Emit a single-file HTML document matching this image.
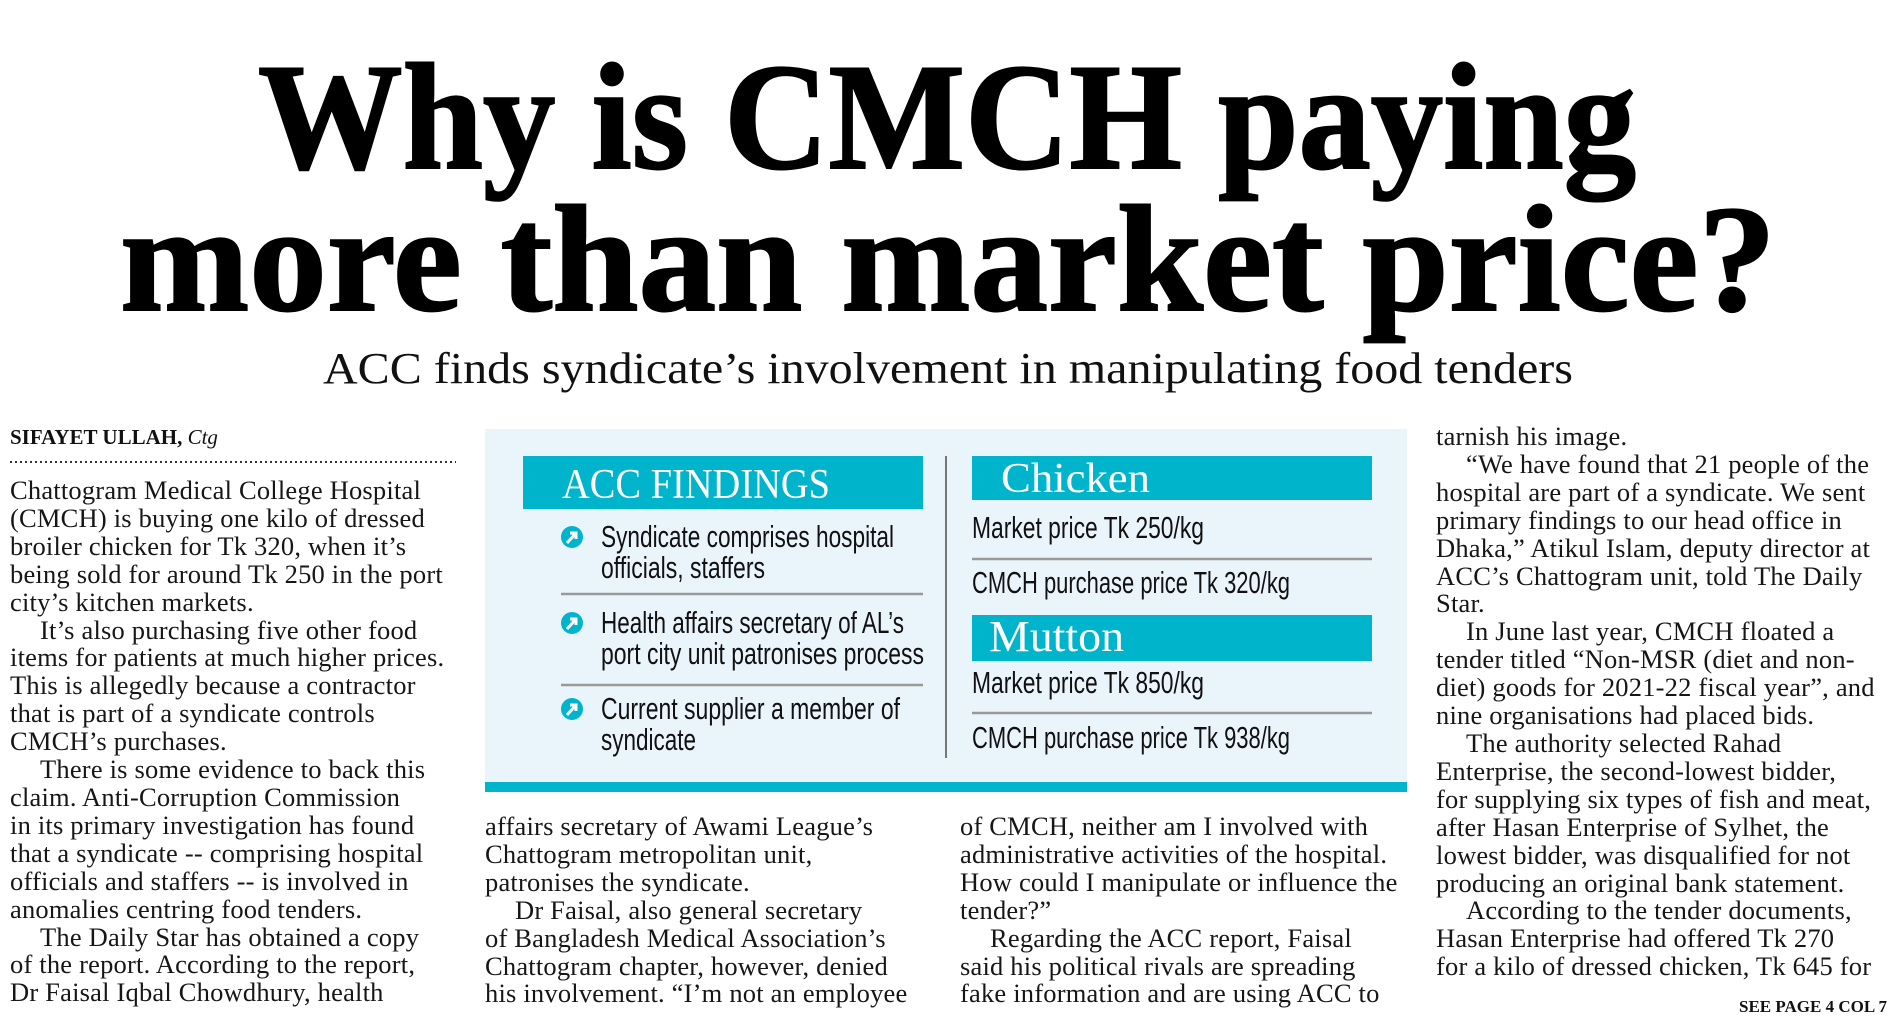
<!DOCTYPE html>
<html><head><meta charset="utf-8"><style>
html,body{margin:0;padding:0;background:#fff;}
body{width:1891px;height:1031px;position:relative;overflow:hidden;font-family:"Liberation Serif",serif;color:#161616;}
.col{position:absolute;font-size:26.5px;letter-spacing:0.2px;line-height:27.9px;white-space:nowrap;}
.ind{padding-left:30px;}
svg{position:absolute;left:0;top:0;}
</style></head><body>
<svg width="1891" height="1031">
 <text x="258" y="168" font-family="Liberation Serif, serif" font-weight="bold" font-size="152" textLength="1378" lengthAdjust="spacingAndGlyphs" fill="#000" stroke="#000" stroke-width="2">Why is CMCH paying</text>
 <text x="120" y="310" font-family="Liberation Serif, serif" font-weight="bold" font-size="152" textLength="1656" lengthAdjust="spacingAndGlyphs" fill="#000" stroke="#000" stroke-width="2">more than market price?</text>
 <text x="323" y="383" font-family="Liberation Serif, serif" font-size="44" textLength="1250" lengthAdjust="spacingAndGlyphs" fill="#111">ACC finds syndicate’s involvement in manipulating food tenders</text>
 <text x="10" y="444" font-family="Liberation Serif, serif" font-size="21" fill="#111"><tspan font-weight="bold">SIFAYET ULLAH,</tspan> <tspan font-style="italic">Ctg</tspan></text>
 <line x1="10" y1="462" x2="456" y2="462" stroke="#333" stroke-width="2" stroke-dasharray="2,3"/>
 <g>
  <rect x="485" y="429" width="922" height="355" fill="#eaf4fb"/>
  <rect x="485" y="782" width="922" height="10" fill="#00b4cc"/>
  <rect x="523" y="456" width="400" height="53" fill="#00b4cc"/>
  <text x="562" y="498" font-family="Liberation Serif, serif" font-size="42" fill="#fff" textLength="268" lengthAdjust="spacingAndGlyphs">ACC FINDINGS</text>
  <line x1="946" y1="456" x2="946" y2="758" stroke="#777" stroke-width="2"/>
  <rect x="972" y="456" width="400" height="44" fill="#00b4cc"/>
  <text x="1001" y="492" font-family="Liberation Serif, serif" font-size="42" fill="#fff" textLength="149" lengthAdjust="spacingAndGlyphs">Chicken</text>
  <rect x="972" y="615" width="400" height="46" fill="#00b4cc"/>
  <text x="989" y="651" font-family="Liberation Serif, serif" font-size="44" fill="#fff" textLength="135" lengthAdjust="spacingAndGlyphs">Mutton</text>
  <g font-family="Liberation Sans, sans-serif" font-size="31" fill="#111">
   <text x="601" y="547" textLength="293" lengthAdjust="spacingAndGlyphs">Syndicate comprises hospital</text>
   <text x="601" y="578" textLength="164" lengthAdjust="spacingAndGlyphs">officials, staffers</text>
   <text x="601" y="633" textLength="303" lengthAdjust="spacingAndGlyphs">Health affairs secretary of AL’s</text>
   <text x="601" y="664" textLength="323" lengthAdjust="spacingAndGlyphs">port city unit patronises process</text>
   <text x="601" y="719" textLength="299" lengthAdjust="spacingAndGlyphs">Current supplier a member of</text>
   <text x="601" y="750" textLength="95" lengthAdjust="spacingAndGlyphs">syndicate</text>
   <text x="972" y="538" textLength="232" lengthAdjust="spacingAndGlyphs">Market price Tk 250/kg</text>
   <text x="972" y="593" textLength="318" lengthAdjust="spacingAndGlyphs">CMCH purchase price Tk 320/kg</text>
   <text x="972" y="693" textLength="232" lengthAdjust="spacingAndGlyphs">Market price Tk 850/kg</text>
   <text x="972" y="748" textLength="318" lengthAdjust="spacingAndGlyphs">CMCH purchase price Tk 938/kg</text>
  </g>
  <g stroke="#999" stroke-width="2.5">
   <line x1="561" y1="594" x2="923" y2="594"/>
   <line x1="561" y1="685" x2="923" y2="685"/>
   <line x1="972" y1="559" x2="1372" y2="559"/>
   <line x1="972" y1="713" x2="1372" y2="713"/>
  </g>
  <g>
   <circle cx="572" cy="537" r="11" fill="#00b4cc"/><path d="M567 543 L576 533 M570 533 L576 533 L576 539" stroke="#fff" stroke-width="3" fill="none"/>
   <circle cx="572" cy="623" r="11" fill="#00b4cc"/><path d="M567 629 L576 619 M570 619 L576 619 L576 625" stroke="#fff" stroke-width="3" fill="none"/>
   <circle cx="572" cy="709" r="11" fill="#00b4cc"/><path d="M567 715 L576 705 M570 705 L576 705 L576 711" stroke="#fff" stroke-width="3" fill="none"/>
  </g>
 </g>
 <text x="1887" y="1012" text-anchor="end" font-family="Liberation Serif, serif" font-weight="bold" font-size="17" fill="#111">SEE PAGE 4 COL 7</text>
</svg>

<div class="col" style="left:10px;top:477px;">Chattogram Medical College Hospital<br>(CMCH) is buying one kilo of dressed<br>broiler chicken for Tk 320, when it’s<br>being sold for around Tk 250 in the port<br>city’s kitchen markets.<br><span class="ind">It’s also purchasing five other food</span><br>items for patients at much higher prices.<br>This is allegedly because a contractor<br>that is part of a syndicate controls<br>CMCH’s purchases.<br><span class="ind">There is some evidence to back this</span><br>claim. Anti-Corruption Commission<br>in its primary investigation has found<br>that a syndicate -- comprising hospital<br>officials and staffers -- is involved in<br>anomalies centring food tenders.<br><span class="ind">The Daily Star has obtained a copy</span><br>of the report. According to the report,<br>Dr Faisal Iqbal Chowdhury, health</div>

<div class="col" style="left:485px;top:813px;">affairs secretary of Awami League’s<br>Chattogram metropolitan unit,<br>patronises the syndicate.<br><span class="ind">Dr Faisal, also general secretary</span><br>of Bangladesh Medical Association’s<br>Chattogram chapter, however, denied<br>his involvement. “I’m not an employee</div>

<div class="col" style="left:960px;top:813px;">of CMCH, neither am I involved with<br>administrative activities of the hospital.<br>How could I manipulate or influence the<br>tender?”<br><span class="ind">Regarding the ACC report, Faisal</span><br>said his political rivals are spreading<br>fake information and are using ACC to</div>

<div class="col" style="left:1436px;top:423px;">tarnish his image.<br><span class="ind">“We have found that 21 people of the</span><br>hospital are part of a syndicate. We sent<br>primary findings to our head office in<br>Dhaka,” Atikul Islam, deputy director at<br>ACC’s Chattogram unit, told The Daily<br>Star.<br><span class="ind">In June last year, CMCH floated a</span><br>tender titled “Non-MSR (diet and non-<br>diet) goods for 2021-22 fiscal year”, and<br>nine organisations had placed bids.<br><span class="ind">The authority selected Rahad</span><br>Enterprise, the second-lowest bidder,<br>for supplying six types of fish and meat,<br>after Hasan Enterprise of Sylhet, the<br>lowest bidder, was disqualified for not<br>producing an original bank statement.<br><span class="ind">According to the tender documents,</span><br>Hasan Enterprise had offered Tk 270<br>for a kilo of dressed chicken, Tk 645 for</div>
</body></html>
